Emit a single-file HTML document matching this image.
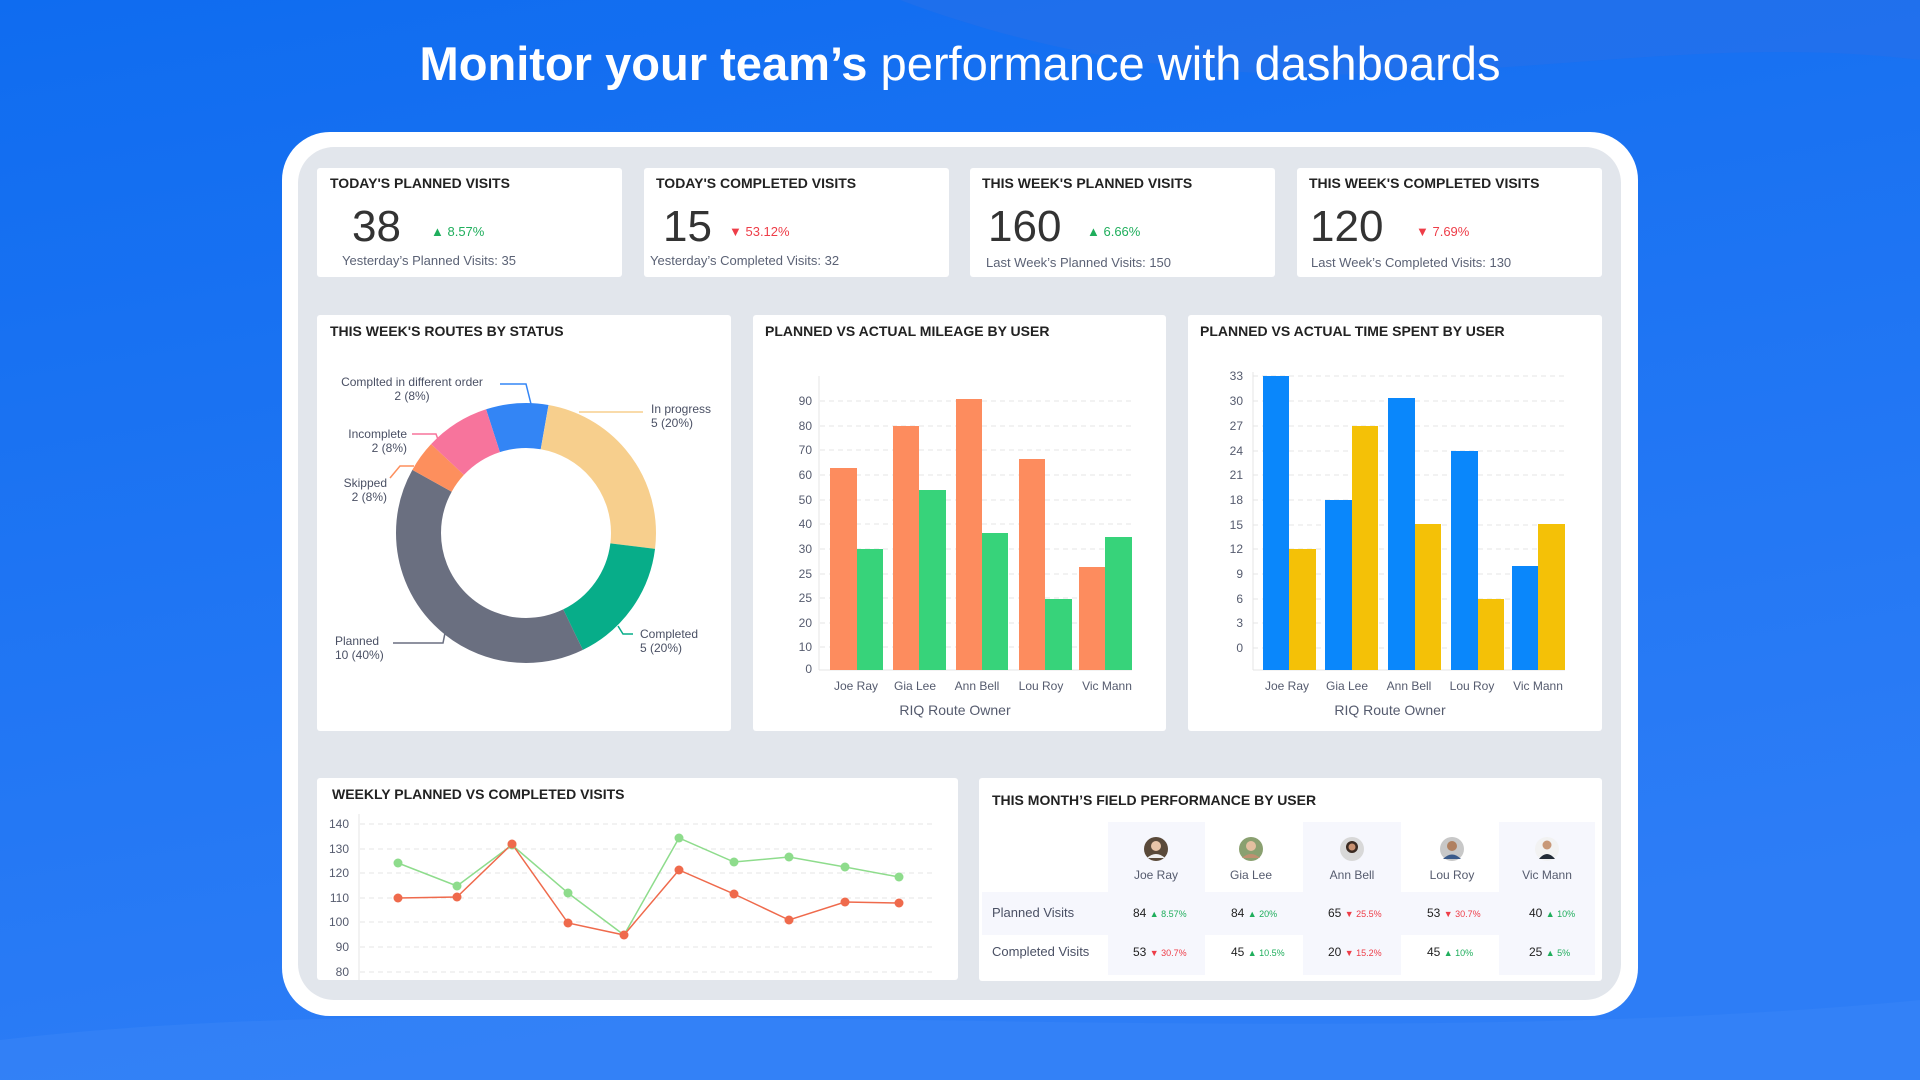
<!DOCTYPE html>
<html><head><meta charset="utf-8"><style>
html,body{margin:0;padding:0;width:1920px;height:1080px;overflow:hidden;background:#1a6ff2}
svg{display:block}
text{font-family:"Liberation Sans",sans-serif}
</style></head><body>
<svg width="1920" height="1080" viewBox="0 0 1920 1080" xmlns="http://www.w3.org/2000/svg">
<defs>
<linearGradient id="bg" x1="0" y1="0" x2="0.3" y2="1">
<stop offset="0" stop-color="#0f6cf0"/><stop offset="1" stop-color="#2d7df6"/></linearGradient>
</defs>
<rect width="1920" height="1080" fill="url(#bg)"/>
<path d="M0 1040 C 500 980, 1300 1060, 1920 1000 L1920 1080 L0 1080Z" fill="#3a86f7" opacity="0.5"/>
<path d="M900 0 C 1300 150, 1600 20, 1920 60 L1920 0Z" fill="#2a6fe8" opacity="0.5"/>
<text x="960" y="80" text-anchor="middle" font-size="47" fill="#fff" textLength="1081" lengthAdjust="spacingAndGlyphs"><tspan font-weight="bold">Monitor your team’s</tspan> performance with dashboards</text>

<rect x="282" y="132" width="1356" height="884" rx="48" fill="#fff"/>
<rect x="298" y="147" width="1323" height="853" rx="36" fill="#e2e6ec"/>

<g fill="#fff">
<rect x="317" y="168" width="305" height="109" rx="3"/>
<rect x="644" y="168" width="305" height="109" rx="3"/>
<rect x="970" y="168" width="305" height="109" rx="3"/>
<rect x="1297" y="168" width="305" height="109" rx="3"/>
<rect x="317" y="315" width="414" height="416" rx="3"/>
<rect x="753" y="315" width="413" height="416" rx="3"/>
<rect x="1188" y="315" width="414" height="416" rx="3"/>
<rect x="317" y="778" width="641" height="202" rx="3"/>
<rect x="979" y="778" width="623" height="203" rx="3"/>
</g>
<g font-size="14" font-weight="bold" fill="#222">
<text x="330" y="188">TODAY'S PLANNED VISITS</text>
<text x="656" y="188">TODAY'S COMPLETED VISITS</text>
<text x="982" y="188">THIS WEEK'S PLANNED VISITS</text>
<text x="1309" y="188">THIS WEEK'S COMPLETED VISITS</text>
<text x="330" y="336">THIS WEEK'S ROUTES BY STATUS</text>
<text x="765" y="336">PLANNED VS ACTUAL MILEAGE BY USER</text>
<text x="1200" y="336">PLANNED VS ACTUAL TIME SPENT BY USER</text>
<text x="332" y="799">WEEKLY PLANNED VS COMPLETED VISITS</text>
<text x="992" y="805">THIS MONTH’S FIELD PERFORMANCE BY USER</text>
</g>
<g font-size="44" fill="#333">
<text x="352" y="241">38</text>
<text x="663" y="241">15</text>
<text x="988" y="241">160</text>
<text x="1310" y="241">120</text>
</g>
<g font-size="13">
<text x="431" y="236" fill="#1fae5c">▲ 8.57%</text>
<text x="729" y="236" fill="#ee3d48">▼ 53.12%</text>
<text x="1087" y="236" fill="#1fae5c">▲ 6.66%</text>
<text x="1416" y="236" fill="#ee3d48">▼ 7.69%</text>
</g>
<g font-size="13" fill="#5b6275">
<text x="342" y="265">Yesterday’s Planned Visits: 35</text>
<text x="650" y="265">Yesterday’s Completed Visits: 32</text>
<text x="986" y="267">Last Week’s Planned Visits: 150</text>
<text x="1311" y="267">Last Week’s Completed Visits: 130</text>
</g>

<g fill="none" stroke-width="45" transform="rotate(-90 526 533)">
<circle cx="526" cy="533" r="107.5" stroke="#3385f5" stroke-dasharray="52.5 622.9" stroke-dashoffset="33.8"/>
<circle cx="526" cy="533" r="107.5" stroke="#f7cf8d" stroke-dasharray="163.2 512.2" stroke-dashoffset="-18.8"/>
<circle cx="526" cy="533" r="107.5" stroke="#07ad89" stroke-dasharray="106.9 568.5" stroke-dashoffset="-182"/>
<circle cx="526" cy="533" r="107.5" stroke="#6a6f80" stroke-dasharray="272 403.4" stroke-dashoffset="-288.9"/>
<circle cx="526" cy="533" r="107.5" stroke="#fd8f5d" stroke-dasharray="26.3 649.1" stroke-dashoffset="-560.9"/>
<circle cx="526" cy="533" r="107.5" stroke="#f7749c" stroke-dasharray="54.4 621" stroke-dashoffset="-587.2"/>
</g>
<g fill="none" stroke-width="1.5">
<polyline points="500,384 526,384 531,404" stroke="#3385f5"/>
<polyline points="412,434 436,434 440,445" stroke="#f7749c"/>
<polyline points="390,478 400,466 414,466" stroke="#fd8f5d"/>
<polyline points="393,643 443,643 445,633" stroke="#6a6f80"/>
<polyline points="579,412 643,412" stroke="#f7cf8d"/>
<polyline points="618,626 623,634 633,634" stroke="#07ad89"/>
</g>
<g font-size="12" fill="#4a5064">
<text x="412" y="386" text-anchor="middle">Complted in different order</text>
<text x="412" y="400" text-anchor="middle">2 (8%)</text>
<text x="407" y="438" text-anchor="end">Incomplete</text>
<text x="407" y="452" text-anchor="end">2 (8%)</text>
<text x="387" y="487" text-anchor="end">Skipped</text>
<text x="387" y="501" text-anchor="end">2 (8%)</text>
<text x="335" y="645">Planned</text>
<text x="335" y="659">10 (40%)</text>
<text x="651" y="413">In progress</text>
<text x="651" y="427">5 (20%)</text>
<text x="640" y="638">Completed</text>
<text x="640" y="652">5 (20%)</text>
</g>

<g stroke="#e6e6e6" stroke-dasharray="5 4">
<line x1="820" x2="1132" y1="401" y2="401"/><line x1="820" x2="1132" y1="426" y2="426"/>
<line x1="820" x2="1132" y1="450" y2="450"/><line x1="820" x2="1132" y1="475" y2="475"/>
<line x1="820" x2="1132" y1="500" y2="500"/><line x1="820" x2="1132" y1="524" y2="524"/>
<line x1="820" x2="1132" y1="549" y2="549"/><line x1="820" x2="1132" y1="574" y2="574"/>
<line x1="820" x2="1132" y1="598" y2="598"/><line x1="820" x2="1132" y1="623" y2="623"/>
<line x1="820" x2="1132" y1="647" y2="647"/>
</g>
<line x1="819" y1="376" x2="819" y2="670" stroke="#e4e4e4"/>
<line x1="819" y1="670" x2="1132" y2="670" stroke="#e4e4e4"/>
<g font-size="12" fill="#555b6e" text-anchor="end">
<text x="812" y="405">90</text><text x="812" y="430">80</text><text x="812" y="454">70</text>
<text x="812" y="479">60</text><text x="812" y="504">50</text><text x="812" y="528">40</text>
<text x="812" y="553">30</text><text x="812" y="578">25</text><text x="812" y="602">25</text>
<text x="812" y="627">20</text><text x="812" y="651">10</text><text x="812" y="673">0</text>
</g>
<g fill="#fd8c5e">
<rect x="830" y="468" width="27" height="202"/><rect x="893" y="426" width="26" height="244"/>
<rect x="956" y="399" width="26" height="271"/><rect x="1019" y="459" width="26" height="211"/>
<rect x="1079" y="567" width="26" height="103"/>
</g>
<g fill="#37d37a">
<rect x="857" y="549" width="26" height="121"/><rect x="919" y="490" width="27" height="180"/>
<rect x="982" y="533" width="26" height="137"/><rect x="1045" y="599" width="27" height="71"/>
<rect x="1105" y="537" width="27" height="133"/>
</g>
<g font-size="12" fill="#555b6e" text-anchor="middle">
<text x="856" y="690">Joe Ray</text><text x="915" y="690">Gia Lee</text><text x="977" y="690">Ann Bell</text>
<text x="1041" y="690">Lou Roy</text><text x="1107" y="690">Vic Mann</text>
<text x="955" y="715" font-size="14">RIQ Route Owner</text>
</g>

<g stroke="#e6e6e6" stroke-dasharray="5 4">
<line x1="1253" x2="1565" y1="376" y2="376"/><line x1="1253" x2="1565" y1="401" y2="401"/>
<line x1="1253" x2="1565" y1="426" y2="426"/><line x1="1253" x2="1565" y1="451" y2="451"/>
<line x1="1253" x2="1565" y1="475" y2="475"/><line x1="1253" x2="1565" y1="500" y2="500"/>
<line x1="1253" x2="1565" y1="525" y2="525"/><line x1="1253" x2="1565" y1="549" y2="549"/>
<line x1="1253" x2="1565" y1="574" y2="574"/><line x1="1253" x2="1565" y1="599" y2="599"/>
<line x1="1253" x2="1565" y1="623" y2="623"/><line x1="1253" x2="1565" y1="648" y2="648"/>
</g>
<line x1="1253" y1="372" x2="1253" y2="670" stroke="#e4e4e4"/>
<line x1="1253" y1="670" x2="1565" y2="670" stroke="#e4e4e4"/>
<g font-size="12" fill="#555b6e" text-anchor="end">
<text x="1243" y="380">33</text><text x="1243" y="405">30</text><text x="1243" y="430">27</text>
<text x="1243" y="455">24</text><text x="1243" y="479">21</text><text x="1243" y="504">18</text>
<text x="1243" y="529">15</text><text x="1243" y="553">12</text><text x="1243" y="578">9</text>
<text x="1243" y="603">6</text><text x="1243" y="627">3</text><text x="1243" y="652">0</text>
</g>
<g fill="#0a87fb">
<rect x="1263" y="376" width="26" height="294"/><rect x="1325" y="500" width="27" height="170"/>
<rect x="1388" y="398" width="27" height="272"/><rect x="1451" y="451" width="27" height="219"/>
<rect x="1512" y="566" width="26" height="104"/>
</g>
<g fill="#f4c107">
<rect x="1289" y="549" width="27" height="121"/><rect x="1352" y="426" width="26" height="244"/>
<rect x="1415" y="524" width="26" height="146"/><rect x="1478" y="599" width="26" height="71"/>
<rect x="1538" y="524" width="27" height="146"/>
</g>
<g font-size="12" fill="#555b6e" text-anchor="middle">
<text x="1287" y="690">Joe Ray</text><text x="1347" y="690">Gia Lee</text><text x="1409" y="690">Ann Bell</text>
<text x="1472" y="690">Lou Roy</text><text x="1538" y="690">Vic Mann</text>
<text x="1390" y="715" font-size="14">RIQ Route Owner</text>
</g>

<g stroke="#e6e6e6" stroke-dasharray="5 4">
<line x1="360" x2="936" y1="824" y2="824"/><line x1="360" x2="936" y1="849" y2="849"/>
<line x1="360" x2="936" y1="873" y2="873"/><line x1="360" x2="936" y1="898" y2="898"/>
<line x1="360" x2="936" y1="922" y2="922"/><line x1="360" x2="936" y1="947" y2="947"/>
<line x1="360" x2="936" y1="972" y2="972"/>
</g>
<line x1="359" y1="814" x2="359" y2="980" stroke="#e4e4e4"/>
<g font-size="12" fill="#555b6e" text-anchor="end">
<text x="349" y="828">140</text><text x="349" y="853">130</text><text x="349" y="877">120</text>
<text x="349" y="902">110</text><text x="349" y="926">100</text><text x="349" y="951">90</text>
<text x="349" y="976">80</text>
</g>
<polyline fill="none" stroke="#8edc8c" stroke-width="1.5" points="398,863 457,886 512,845 568,893 624,935 679,838 734,862 789,857 845,867 899,877"/>
<polyline fill="none" stroke="#ef6a4c" stroke-width="1.5" points="398,898 457,897 512,844 568,923 624,935 679,870 734,894 789,920 845,902 899,903"/>
<g fill="#8edc8c">
<circle cx="398" cy="863" r="4.5"/><circle cx="457" cy="886" r="4.5"/><circle cx="512" cy="845" r="4.5"/>
<circle cx="568" cy="893" r="4.5"/><circle cx="679" cy="838" r="4.5"/><circle cx="734" cy="862" r="4.5"/>
<circle cx="789" cy="857" r="4.5"/><circle cx="845" cy="867" r="4.5"/><circle cx="899" cy="877" r="4.5"/>
</g>
<g fill="#ef6a4c">
<circle cx="398" cy="898" r="4.5"/><circle cx="457" cy="897" r="4.5"/><circle cx="512" cy="844" r="4.5"/>
<circle cx="568" cy="923" r="4.5"/><circle cx="624" cy="935" r="4.5"/><circle cx="679" cy="870" r="4.5"/>
<circle cx="734" cy="894" r="4.5"/><circle cx="789" cy="920" r="4.5"/><circle cx="845" cy="902" r="4.5"/>
<circle cx="899" cy="903" r="4.5"/>
</g>

<g fill="#f6f7fd">
<rect x="1108" y="822" width="97" height="153"/>
<rect x="1303" y="822" width="98" height="153"/>
<rect x="1499" y="822" width="96" height="153"/>
<rect x="982" y="892" width="613" height="43"/>
</g>
<g>
<circle cx="1156" cy="849" r="12" fill="#5a4a3a"/><circle cx="1156" cy="846" r="5" fill="#e8c4a8"/><path d="M1147 858 q9 -8 18 0" fill="#f0f0f0"/>
<circle cx="1251" cy="849" r="12" fill="#8aa070"/><circle cx="1251" cy="846" r="5" fill="#e3bfa0"/><path d="M1242 858 q9 -8 18 0" fill="#c09070"/>
<circle cx="1352" cy="849" r="12" fill="#d8d8d8"/><circle cx="1352" cy="847" r="6" fill="#3a2a22"/><circle cx="1352" cy="847" r="3.5" fill="#c89070"/>
<circle cx="1452" cy="849" r="12" fill="#c8c8c8"/><circle cx="1452" cy="846" r="5" fill="#b08060"/><path d="M1443 859 q9 -9 18 0" fill="#3a5a8a"/>
<circle cx="1547" cy="849" r="12" fill="#f2f2f2"/><circle cx="1547" cy="845" r="4.5" fill="#c89878"/><path d="M1539 859 q8 -10 16 0" fill="#222b36"/>
</g>
<g font-size="12" fill="#555b6e" text-anchor="middle">
<text x="1156" y="879">Joe Ray</text><text x="1251" y="879">Gia Lee</text><text x="1352" y="879">Ann Bell</text>
<text x="1452" y="879">Lou Roy</text><text x="1547" y="879">Vic Mann</text>
</g>
<g font-size="13" fill="#4a5064">
<text x="992" y="917">Planned Visits</text>
<text x="992" y="956">Completed Visits</text>
</g>
<g font-size="12" fill="#222">
<text x="1133" y="917">84 <tspan font-size="9" fill="#1fae5c">▲ 8.57%</tspan></text>
<text x="1231" y="917">84 <tspan font-size="9" fill="#1fae5c">▲ 20%</tspan></text>
<text x="1328" y="917">65 <tspan font-size="9" fill="#ee3d48">▼ 25.5%</tspan></text>
<text x="1427" y="917">53 <tspan font-size="9" fill="#ee3d48">▼ 30.7%</tspan></text>
<text x="1529" y="917">40 <tspan font-size="9" fill="#1fae5c">▲ 10%</tspan></text>
<text x="1133" y="956">53 <tspan font-size="9" fill="#ee3d48">▼ 30.7%</tspan></text>
<text x="1231" y="956">45 <tspan font-size="9" fill="#1fae5c">▲ 10.5%</tspan></text>
<text x="1328" y="956">20 <tspan font-size="9" fill="#ee3d48">▼ 15.2%</tspan></text>
<text x="1427" y="956">45 <tspan font-size="9" fill="#1fae5c">▲ 10%</tspan></text>
<text x="1529" y="956">25 <tspan font-size="9" fill="#1fae5c">▲ 5%</tspan></text>
</g>
</svg>
</body></html>
